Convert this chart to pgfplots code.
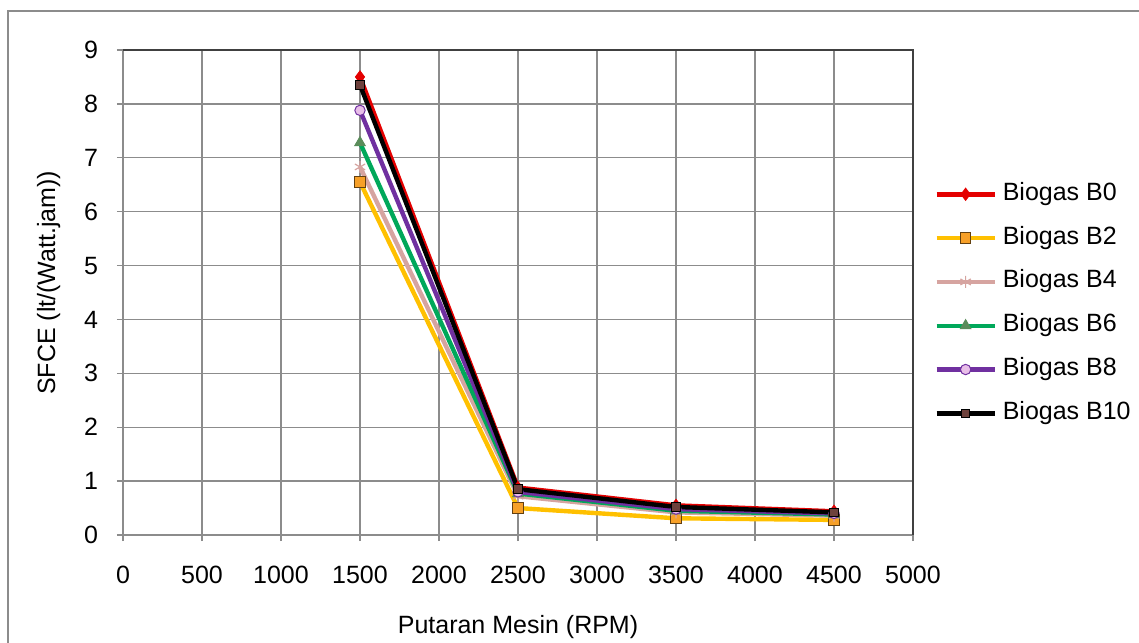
\documentclass[border=0pt]{standalone}
\usepackage{pgfplots}
\pgfplotsset{compat=1.18}
\usepackage{fontspec}
\setmainfont{Liberation Sans}

\definecolor{cB0}{RGB}{228,0,0}
\definecolor{cB2}{RGB}{255,192,0}
\definecolor{cB2m}{RGB}{247,160,40}
\definecolor{cB4}{RGB}{214,164,160}
\definecolor{cB6}{RGB}{0,168,90}
\definecolor{cB6m}{RGB}{90,140,90}
\definecolor{cB8}{RGB}{112,48,160}
\definecolor{cB8m}{RGB}{232,190,232}
\definecolor{cB10m}{RGB}{110,65,60}
\definecolor{gridgray}{RGB}{140,140,140}

\begin{document}
\begin{tikzpicture}[x=0.5pt,y=0.5pt]
% page = 1139 x 642 px, 1 px = 0.5 pt, y measured from the bottom
\useasboundingbox (0,0) rectangle (1139,642);
\draw[gridgray, line width=1pt] (7.5,-20) -- (7.5,631) -- (1160,631);
\coordinate (O) at (123,107);
\begin{axis}[
    at={(O)}, anchor=south west,
    scale only axis,
    width=395pt, height=242.5pt,
    xmin=0, xmax=5000, ymin=0, ymax=9,
    xtick={0,500,...,5000},
    ytick={0,1,...,9},
    grid=major,
    major grid style={gridgray, line width=0.7pt},
    axis line style={draw=none},
    tick align=outside,
    major tick length=3pt,
    tick style={gridgray, line width=0.7pt},
    xtick pos=bottom, ytick pos=left,
    /pgf/number format/assume math mode=true,
    /pgf/number format/1000 sep={},
    ticklabel style={font=\fontsize{12.5}{14}\selectfont},
    xticklabel style={anchor=base, yshift=-21pt},
    yticklabel style={anchor=east, xshift=-6pt},
    xlabel={Putaran Mesin (RPM)},
    ylabel={SFCE (lt/(Watt.jam))},
    every axis x label/.style={at={(axis description cs:0.5,-0.19)}, anchor=center, font=\fontsize{12.5}{14}\selectfont},
    every axis y label/.style={at={(axis description cs:-0.094,0.52)}, rotate=90, anchor=center, font=\fontsize{12.5}{14}\selectfont},
    legend cell align=left,
    legend image code/.code={\draw[mark repeat=2,mark phase=2,#1] plot coordinates {(0pt,0pt) (14.5pt,0pt) (29pt,0pt)};},
    legend style={
        at={(axis description cs:1.0266,0.7280)}, anchor=north west,
        draw=none, fill=none, inner sep=0pt,
        font=\fontsize{12.5}{14}\selectfont,
        row sep=9.9pt, column sep=3pt,
        nodes={inner sep=0pt, text height=9pt, text depth=3pt},
    },
    every axis plot/.append style={line width=2.2pt},
    clip=false,
    after end axis/.code={
        \draw[gridgray, line width=0.8pt] (axis cs:0,9) -- (axis cs:0,0) -- (axis cs:5000,0);
        \draw[black!75, line width=0.8pt] (axis cs:0,9) -- (axis cs:5000,9) -- (axis cs:5000,0);
    },
]
\addplot[cB0, mark=diamond*, mark size=3pt, mark options={fill=cB0, draw=cB0, line width=0.5pt}]
    coordinates {(1500,8.50) (2500,0.88) (3500,0.55) (4500,0.44)};
\addlegendentry{Biogas B0}
\addplot[cB2, mark=square*, mark size=2.6pt, mark options={fill=cB2m, draw=black!60!cB2m, line width=0.5pt}]
    coordinates {(1500,6.55) (2500,0.50) (3500,0.31) (4500,0.28)};
\addlegendentry{Biogas B2}
\addplot[cB4, mark=asterisk, mark size=3pt, mark options={draw=cB4, line width=0.6pt}]
    coordinates {(1500,6.83) (2500,0.72) (3500,0.42) (4500,0.36)};
\addlegendentry{Biogas B4}
\addplot[cB6, mark=triangle*, mark size=3pt, mark options={fill=cB6m, draw=cB6m, line width=0.5pt}]
    coordinates {(1500,7.28) (2500,0.77) (3500,0.45) (4500,0.38)};
\addlegendentry{Biogas B6}
\addplot[cB8, mark=*, mark size=2.6pt, mark options={fill=cB8m, draw=cB8, line width=0.5pt}]
    coordinates {(1500,7.88) (2500,0.80) (3500,0.48) (4500,0.40)};
\addlegendentry{Biogas B8}
\addplot[black, mark=square*, mark size=2.1pt, mark options={fill=cB10m, draw=black, line width=0.5pt}]
    coordinates {(1500,8.35) (2500,0.85) (3500,0.52) (4500,0.42)};
\addlegendentry{Biogas B10}
\end{axis}
\end{tikzpicture}
\end{document}
